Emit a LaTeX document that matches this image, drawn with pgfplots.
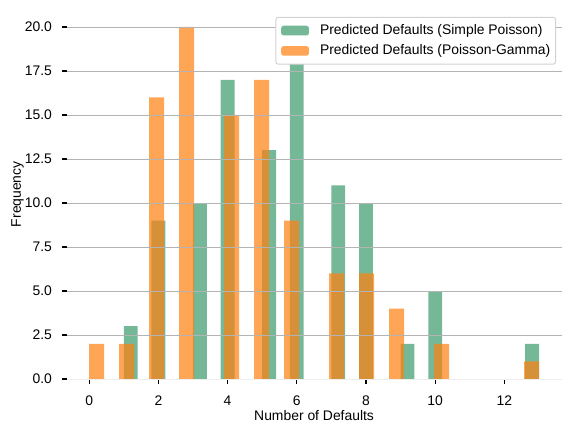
\documentclass[border=0pt]{standalone}
\usepackage{pgfplots}
\pgfplotsset{compat=1.18}
\usepackage{fontspec}
\setmainfont{Liberation Sans}
\definecolor{cgreen}{RGB}{59,154,108}
\definecolor{corange}{RGB}{255,127,14}
\definecolor{gridgray}{RGB}{180,180,180}
\definecolor{spinecol}{RGB}{238,238,238}
\definecolor{legendedge}{RGB}{210,210,210}
\newcommand{\mpfont}{\fontsize{13.9bp}{16.7bp}\selectfont}
\begin{document}
\mpfont
\begin{tikzpicture}
\useasboundingbox (-66.7bp,-53bp) rectangle (505.3bp,379bp);
\begin{axis}[
  scale only axis, width=494.8bp, height=369.6bp,
  xmin=-0.65, xmax=13.65, ymin=0, ymax=21,
  axis on top,
  axis x line*=bottom, axis y line*=left,
  x axis line style={-, draw=spinecol, line width=1bp},
  y axis line style={-, draw=none},
  tick align=outside,
  major tick length=4.86bp,
  major tick style={black, line width=1.1bp},
  minor tick num=0,
  xtick={0,2,4,6,8,10,12},
  xticklabels={0,2,4,6,8,10,12},
  ytick={0,2.5,5,7.5,10,12.5,15,17.5,20},
  yticklabels={0.0,2.5,5.0,7.5,10.0,12.5,15.0,17.5,20.0},
  ymajorgrids,
  grid style={draw=gridgray, line width=0.95bp},
  xticklabel style={anchor=north, inner sep=0pt, yshift=-11.8bp, font=\mpfont},
  yticklabel style={anchor=east, inner sep=0pt, xshift=-9.7bp, font=\mpfont},
  xlabel={Number of Defaults},
  ylabel={Frequency},
  xlabel style={at={(axis description cs:0.5,0)}, anchor=north, inner sep=0pt, yshift=-31.5bp, font=\mpfont},
  ylabel style={at={(axis description cs:-0.0863,0.5)}, anchor=south, inner sep=0pt, font=\mpfont},
  legend style={
    at={(axis description cs:0.989,0.980)}, anchor=north east,
    draw=legendedge, line width=1bp, rounded corners=2.5bp, fill=white,
    inner xsep=5.3bp, inner ysep=6.3bp,
    column sep=11.1bp, row sep=6.3bp,
    font=\mpfont,
    nodes={inner sep=0pt, text height=10.5bp, text depth=3.5bp},
  },
  legend cell align=left,
  legend image code/.code={\fill[#1] (0bp,-4.85bp) rectangle (27.8bp,4.85bp);},
]
\addplot[ybar, bar width=0.4, bar shift=0pt, draw=none, fill=cgreen, fill opacity=0.7]
  coordinates {(1.2,3) (2.0,9) (3.2,10) (4.0,17) (5.2,13) (6.0,18) (7.2,11) (8.0,10) (9.2,2) (10.0,5) (12.8,2)};
\addlegendentry{Predicted Defaults (Simple Poisson)}
\addplot[ybar, bar width=0.43333, bar shift=0pt, draw=none, fill=corange, fill opacity=0.7]
  coordinates {(0.21667,2) (1.08333,2) (1.95,16) (2.81667,20) (4.11667,15) (4.98333,17) (5.85,9) (7.15,6) (8.01667,6) (8.88333,4) (10.18333,2) (12.78333,1)};
\addlegendentry{Predicted Defaults (Poisson-Gamma)}
\end{axis}
\end{tikzpicture}
\end{document}
